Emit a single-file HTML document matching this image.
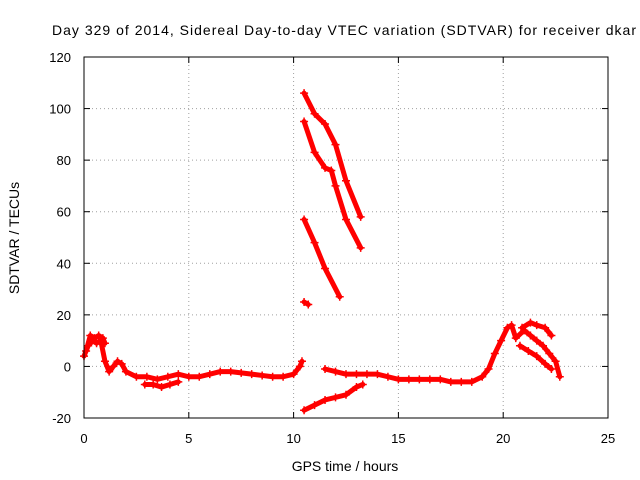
<!DOCTYPE html>
<html><head><meta charset="utf-8"><style>
body{margin:0;background:#fff}
svg{display:block;font-family:"Liberation Sans",sans-serif}
</style></head><body>
<svg id="chart" width="640" height="480" viewBox="0 0 640 480">
<rect width="640" height="480" fill="#fff"/>
<text x="52" y="35" font-size="14" textLength="584">Day 329 of 2014, Sidereal Day-to-day VTEC variation (SDTVAR) for receiver dkar</text>
<g id="grid"></g>
<g id="axes"></g>
<g id="marks"></g>
<rect x="84" y="57" width="524" height="361" fill="none" stroke="#000" stroke-width="1"/>
<text x="345" y="471" font-size="14" text-anchor="middle">GPS time / hours</text>
<text x="0" y="0" font-size="14" text-anchor="middle" transform="translate(19,238) rotate(-90)">SDTVAR / TECUs</text>
</svg>
<script>
const xTicks=[0,5,10,15,20,25];
const yTicks=[-20,0,20,40,60,80,100,120];
const baseT=[0,0.2,0.4,0.6,0.8,1.0,1.2,1.4,1.6,1.8,2.0,2.5,3,3.5,4,4.5,5,5.5,6,6.5,7,7.5,8,8.5,9,9.5,10,10.3,10.4];
const baseV=[4,8,10,9,10,2,-2,0,2,1,-2,-4,-4,-5,-4,-3,-4,-4,-3,-2,-2,-2.5,-3,-3.5,-4,-4,-3,0,2];
const lateT=[11.5,12,12.5,13,13.5,14,14.5,15,15.5,16,16.5,17,17.5,18,18.5,19,19.3,19.6,19.9,20.2,20.4,20.6,21,21.3,21.6,21.9,22.2,22.5,22.7];
const lateV=[-1,-2,-3,-3,-3,-3,-4,-5,-5,-5,-5,-5,-6,-6,-6,-4,-1,5,10,15,16,11,14,12,10,8,5,2,-4];
const lowT=[10.5,11,11.5,12,12.5,13,13.3];
const lowV=[-17,-15,-13,-12,-11,-8,-7];
const arc1T=[10.5,11,11.5,12,12.5,13.2];
const arc1V=[106,98,94,86,72,58];
const arc2T=[10.5,11,11.5,11.8,12,12.5,13.2];
const arc2V=[95,83,77,76,70,57,46];
const arc3T=[10.5,11,11.5,12.2];
const arc3V=[57,48,38,27];
const smallT=[10.5,10.7];
const smallV=[25,24];
const noise1T=[0.1,0.3,0.5,0.7,0.9,1.0];
const noise1V=[6,12,11,12,11,9];
const noise2T=[2.9,3.3,3.7,4.1,4.5];
const noise2V=[-7,-7,-8,-7,-6];
const noise3T=[20.8,21.2,21.6,22,22.3];
const noise3V=[8,6,4,1,-1];
const noise4T=[20.9,21.3,21.6,22,22.3];
const noise4V=[15,17,16,15,12];
const X=t=>84+t*(524/25);
const Y=v=>418-(v+20)*(361/140);
const NS="http://www.w3.org/2000/svg";
function mk(tag,attrs,parent){const e=document.createElementNS(NS,tag);for(const k in attrs)e.setAttribute(k,attrs[k]);parent.appendChild(e);return e;}
const grid=document.getElementById('grid'),axes=document.getElementById('axes'),marks=document.getElementById('marks');
xTicks.forEach(t=>{
 const gl=mk('line',{x1:X(t),x2:X(t),y1:57,y2:418,stroke:'#a0a0a0','stroke-dasharray':'1,3'},grid);
 
 
 mk('line',{x1:X(t),x2:X(t),y1:418,y2:412,stroke:'#000'},axes);
 mk('line',{x1:X(t),x2:X(t),y1:57,y2:63,stroke:'#000'},axes);
 const tx=mk('text',{x:X(t),y:443,'font-size':13,'text-anchor':'middle'},axes);
 tx.textContent=t;
 
 
});
yTicks.forEach(v=>{
 const gl=mk('line',{x1:84,x2:608,y1:Y(v),y2:Y(v),stroke:'#a0a0a0','stroke-dasharray':'1,3'},grid);
 
 
 mk('line',{x1:84,x2:90,y1:Y(v),y2:Y(v),stroke:'#000'},axes);
 mk('line',{x1:608,x2:602,y1:Y(v),y2:Y(v),stroke:'#000'},axes);
 const tx=mk('text',{x:71,y:Y(v)+5,'font-size':13,'text-anchor':'end'},axes);
 tx.textContent=v;
 
 
});
const series=[[baseT,baseV,'series-morning'],[lateT,lateV,'series-afternoon'],[lowT,lowV,'series-low-arc'],[arc1T,arc1V,'series-arc-1'],[arc2T,arc2V,'series-arc-2'],[arc3T,arc3V,'series-arc-3'],[smallT,smallV,'series-small'],[noise1T,noise1V,'noise-early'],[noise2T,noise2V,'noise-morning'],[noise3T,noise3V,'noise-evening-low'],[noise4T,noise4V,'noise-evening-high']];
series.forEach(([T,V,name])=>{
 const g=mk('g',{},marks);
 
 
 const pts=T.map((t,i)=>X(t)+','+Y(V[i])).join(' ');
 mk('polyline',{points:pts,fill:'none',stroke:'#f00','stroke-width':5,'stroke-linejoin':'round','stroke-linecap':'round'},g);
 T.forEach((t,i)=>{
  const x=X(t),y=Y(V[i]);
  const p=mk('path',{d:`M${x-4},${y}H${x+4}M${x},${y-4}V${y+4}`,stroke:'#f00','stroke-width':1.5},g);
  
  
 });
});
</script>
</body></html>
